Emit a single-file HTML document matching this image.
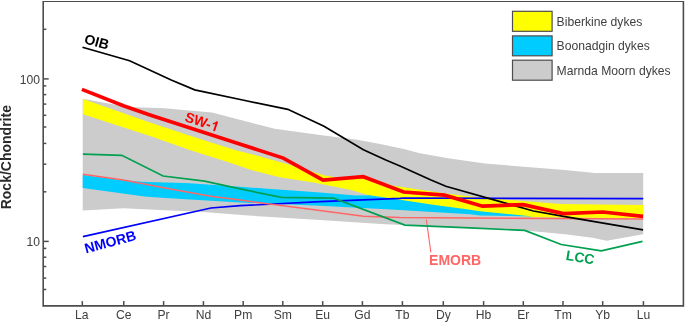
<!DOCTYPE html>
<html><head><meta charset="utf-8">
<style>
html,body{margin:0;padding:0;background:#fff;}
body{width:685px;height:323px;overflow:hidden;font-family:"Liberation Sans",sans-serif;}
svg{display:block;will-change:transform;}
text{font-family:"Liberation Sans",sans-serif;}
.t{font-size:12.15px;fill:#404040;}
.b{font-size:14px;font-weight:bold;}
</style></head><body>
<svg width="685" height="323" viewBox="0 0 685 323">
<rect width="685" height="323" fill="#fff"/>
<polygon fill="#cccccc" points="82.7,98.8 128,107 165,108.2 183.5,110 212.1,112.5 274.7,128.8 320,134.9 357.2,139.85 380,144 405,149.3 418.6,153 449.6,158.6 485,163.6 565,170 594.8,173 643.2,173 643.2,234.3 606.6,240.8 592.6,237.8 565,234.2 524.7,230.4 404.85,225.1 385,224.2 320,220.1 245,215.3 200,211.8 165,210.3 123.4,208.2 82.7,210.5"/>
<polygon fill="#ffff00" points="82.9,99.0 150,122.5 200,139.0 235,150.0 254.8,155 292,165.4 312.4,171.8 324.8,175.5 337,177.4 350,177.3 363.3,175.5 392,185.5 442,193.1 476.8,197.3 522.6,201 560,204 643.2,205.1 643.2,218.3 533.4,217.3 465,211 400,202 369.6,195.5 351,190 315,182.8 279.6,177.3 251.1,170 230,162.8 189.7,150.1 150,136.05 116,125.1 82.9,114.2"/>
<polygon fill="#00ccff" points="82.7,174.9 123.4,180.3 142,181.75 165,182.4 186,183 240,186.75 320,192.4 355.9,195.6 369.6,195.2 385,197.4 400,199.8 434.6,205 465,209.1 480,211.2 533.4,216.6 480,215.5 470,214.2 400,210.1 320,205.8 240,202.5 165,197.9 144.5,196.6 82.7,188"/>
<g fill="none" stroke-linejoin="miter">
<polyline stroke="#0000ff" stroke-width="1.7" points="82.9,236.6 210.9,208 240,205.7 320,201.7 400,198.4 404,198.0 643.2,198.7"/>
<polyline stroke="#ff6666" stroke-width="1.5" points="82.9,174.3 123.4,180.1 165,188 210.8,196.3 240,200.1 320,210.4 363.4,216.3 400,217.5 470,218 643.2,218.9"/>
<polyline stroke="#ff6666" stroke-width="1.1" points="426.3,219.5 430.9,252.3"/>
<polyline stroke="#00a050" stroke-width="1.7" points="82.9,154.2 121.8,155.3 163.1,176 204.6,181.2 240,188.9 281.5,197.4 333.6,198.1 404.85,225.1 470,227.95 524.7,230.4 561.2,244.5 601.3,250.9 642.5,241.3"/>
<polyline stroke="#000000" stroke-width="1.7" points="82.5,47.2 129.6,60.8 171.2,80 194.7,89.9 245,100.5 287.8,109.3 324,126.2 363.4,149.8 385.8,160 400,166.05 431,180 445.8,186.2 508.1,203.9 533.4,211.0 565,216.6 643.1,229.8"/>
<polyline stroke="#ff0000" stroke-width="3.7" points="81.9,89.39999999999999 123.4,105.8 150,115.0 235,142.4 283.3,158.10000000000002 323,180.20000000000002 363.3,176.70000000000002 403.6,192.05 444.5,195.15 482.5,206.20000000000002 523.2,204.60000000000002 563.3,213.60000000000002 602.8,212.0 643.1,216.35000000000002"/>
</g>
<g stroke="#4d4d4d">
<line x1="43.2" x2="43.2" y1="0.9" y2="306.84999999999997" stroke-width="1.6"/>
<line x1="683.4" x2="683.4" y1="0.9" y2="306.84999999999997" stroke-width="1.6"/>
<line x1="43.2" x2="683.4" y1="1.5" y2="1.5" stroke-width="1.2"/>
<line x1="43.2" x2="683.4" y1="305.9" y2="305.9" stroke-width="1.9"/>
</g>
<g stroke="#4d4d4d" stroke-width="1.5">
<line x1="43.2" x2="48.7" y1="78.9" y2="78.9"/>
<line x1="43.2" x2="48.7" y1="241.4" y2="241.4"/>
<line x1="43.2" x2="46.3" y1="29.3" y2="29.3"/>
<line x1="43.2" x2="46.3" y1="85.9" y2="85.9"/>
<line x1="43.2" x2="46.3" y1="94.6" y2="94.6"/>
<line x1="43.2" x2="46.3" y1="104.1" y2="104.1"/>
<line x1="43.2" x2="46.3" y1="115.3" y2="115.3"/>
<line x1="43.2" x2="46.3" y1="127.0" y2="127.0"/>
<line x1="43.2" x2="46.3" y1="143.4" y2="143.4"/>
<line x1="43.2" x2="46.3" y1="164.2" y2="164.2"/>
<line x1="43.2" x2="46.3" y1="191.8" y2="191.8"/>
<line x1="43.2" x2="46.3" y1="248.4" y2="248.4"/>
<line x1="43.2" x2="46.3" y1="257.2" y2="257.2"/>
<line x1="43.2" x2="46.3" y1="266.5" y2="266.5"/>
<line x1="43.2" x2="46.3" y1="278.1" y2="278.1"/>
<line x1="43.2" x2="46.3" y1="289.5" y2="289.5"/>
<line x1="82.3" x2="82.3" y1="301.1" y2="305.9"/>
<line x1="123.8" x2="123.8" y1="301.1" y2="305.9"/>
<line x1="163.6" x2="163.6" y1="301.1" y2="305.9"/>
<line x1="203.4" x2="203.4" y1="301.1" y2="305.9"/>
<line x1="243.2" x2="243.2" y1="301.1" y2="305.9"/>
<line x1="282.8" x2="282.8" y1="301.1" y2="305.9"/>
<line x1="322.7" x2="322.7" y1="301.1" y2="305.9"/>
<line x1="362.4" x2="362.4" y1="301.1" y2="305.9"/>
<line x1="402.4" x2="402.4" y1="301.1" y2="305.9"/>
<line x1="443.3" x2="443.3" y1="301.1" y2="305.9"/>
<line x1="483.6" x2="483.6" y1="301.1" y2="305.9"/>
<line x1="523.3" x2="523.3" y1="301.1" y2="305.9"/>
<line x1="563.0" x2="563.0" y1="301.1" y2="305.9"/>
<line x1="602.7" x2="602.7" y1="301.1" y2="305.9"/>
<line x1="643.4" x2="643.4" y1="301.1" y2="305.9"/>
</g>
<g class="t" text-anchor="middle">
<text x="81.8" y="319.0">La</text>
<text x="123.8" y="319.0">Ce</text>
<text x="163.6" y="319.0">Pr</text>
<text x="203.4" y="319.0">Nd</text>
<text x="243.2" y="319.0">Pm</text>
<text x="282.8" y="319.0">Sm</text>
<text x="322.7" y="319.0">Eu</text>
<text x="362.4" y="319.0">Gd</text>
<text x="402.4" y="319.0">Tb</text>
<text x="443.3" y="319.0">Dy</text>
<text x="483.6" y="319.0">Hb</text>
<text x="523.3" y="319.0">Er</text>
<text x="563.0" y="319.0">Tm</text>
<text x="602.7" y="319.0">Yb</text>
<text x="643.4" y="319.0">Lu</text>
</g>
<g class="t" text-anchor="end"><text x="40" y="83.5">100</text><text x="40" y="245.7">10</text></g>
<text class="b" fill="#2a2a2a" text-anchor="middle" transform="translate(11.4,157.2) rotate(-90)">Rock/Chondrite</text>
<g stroke="#4d4d4d" stroke-width="1.2">
<rect x="512.5" y="11.3" width="39.6" height="20" fill="#ffff00"/>
<rect x="512.5" y="35.9" width="39.6" height="19.9" fill="#00ccff"/>
<rect x="512.5" y="60.2" width="39.6" height="20" fill="#cccccc"/>
</g>
<g class="t"><text x="556.6" y="25.8">Biberkine dykes</text><text x="556.6" y="50.3">Boonadgin dykes</text><text x="556.6" y="74.8">Marnda Moorn dykes</text></g>
<text class="b" fill="#000" transform="translate(83.5,43.2) rotate(15)">OIB</text>
<g fill="#ff0000" transform="translate(183.9,120.9) rotate(18.5)"><text class="b">SW-</text><path d="M32.72 0H30.8V-7.24Q29.7 -6.2 28.32 -5.71V-7.38Q30.3 -8.2 31.16 -10.06H32.72Z"/></g>
<text class="b" fill="#0000ff" transform="translate(86,253.4) rotate(-15)">NMORB</text>
<text class="b" fill="#ff6666" x="429.1" y="265.2">EMORB</text>
<text class="b" fill="#00a050" transform="translate(565.2,259.7) rotate(9.7)">LCC</text>
</svg>
</body></html>
